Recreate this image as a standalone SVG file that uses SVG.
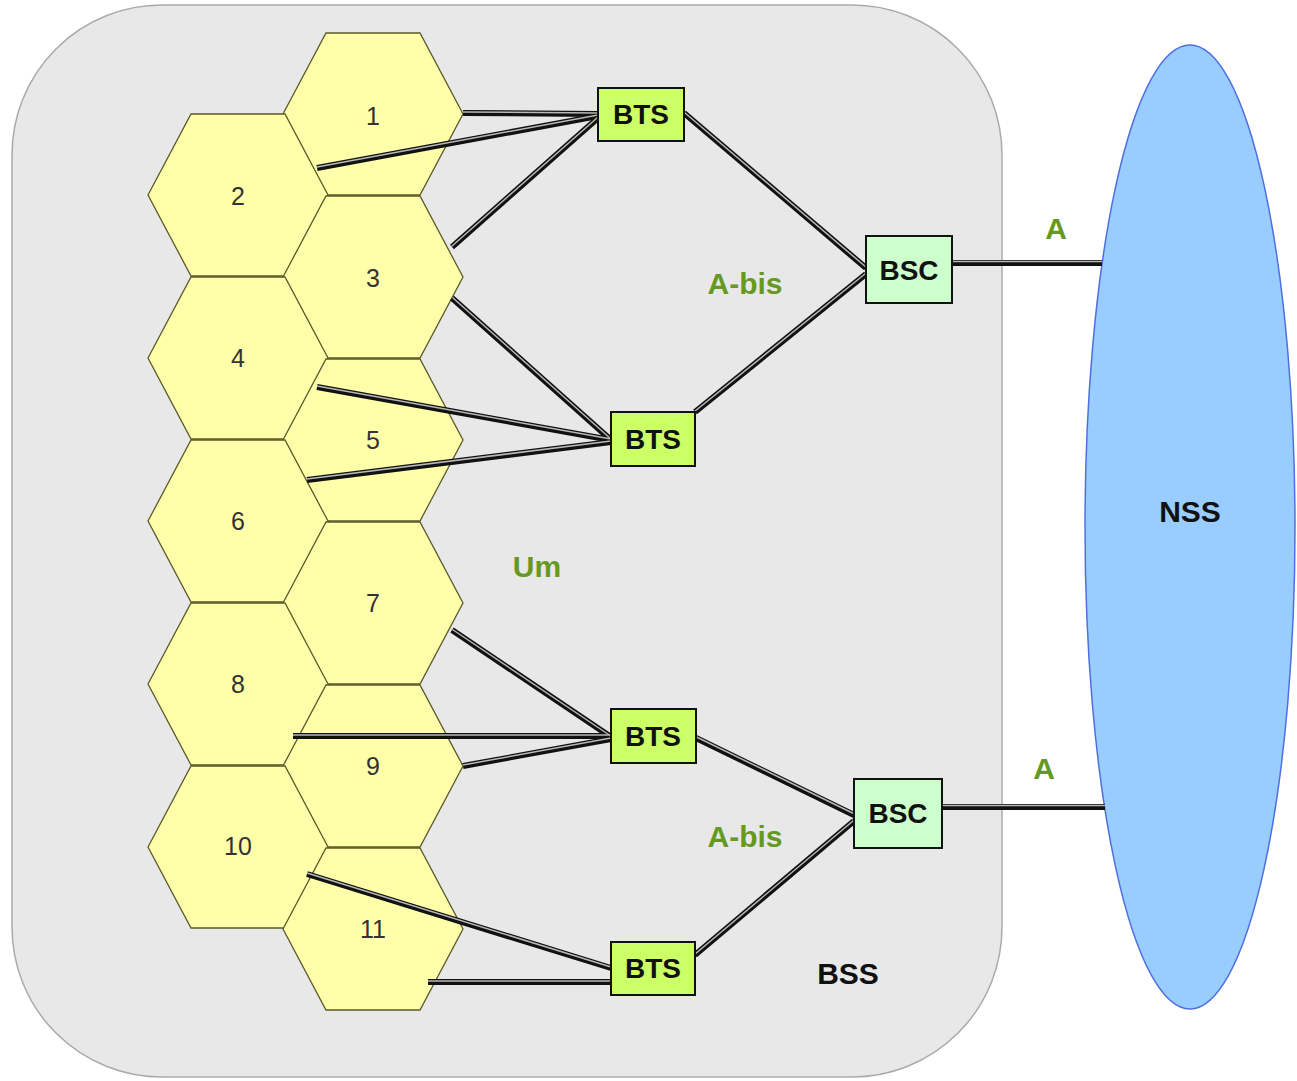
<svg xmlns="http://www.w3.org/2000/svg" width="1297" height="1081" viewBox="0 0 1297 1081">
<defs>
<style>
.hex{fill:#FFFFAA;stroke:#5a5a2a;stroke-width:1.3}
.num{font-family:"Liberation Sans",Arial,sans-serif;font-size:25px;fill:#333;text-anchor:middle}
.bts{fill:#CCFF66;stroke:#111;stroke-width:2}
.bsc{fill:#CCFFCC;stroke:#111;stroke-width:2}
.lbl{font-family:"Liberation Sans",Arial,sans-serif;font-weight:bold;font-size:28px;fill:#111;text-anchor:middle}
.grn{font-family:"Liberation Sans",Arial,sans-serif;font-weight:bold;font-size:30px;fill:#669922;text-anchor:middle}
.big{font-family:"Liberation Sans",Arial,sans-serif;font-weight:bold;font-size:30px;fill:#111;text-anchor:middle}
.lo{stroke:#111;stroke-width:6;fill:none;stroke-linecap:butt}
.li{stroke:#b8b8b8;stroke-width:1.5;fill:none}
</style>
<polygon id="hx" points="-90,0 -47,-81 47,-81 90,0 47,81 -47,81"/>
</defs>
<rect id="bss" x="12" y="5" width="990" height="1072" rx="150" ry="150" fill="#E8E8E8" stroke="#aaa" stroke-width="1.5"/>
<g id="nss">
<ellipse cx="1190" cy="527" rx="105" ry="482" fill="#99CCFF" stroke="#4f6fe0" stroke-width="1.5"/>
<text class="big" x="1190" y="522">NSS</text>
</g>
<g id="cells">
<g id="cell1"><use href="#hx" class="hex" x="373" y="114"/><text class="num" x="373" y="125">1</text></g>
<g id="cell2"><use href="#hx" class="hex" x="238" y="195"/><text class="num" x="238" y="205">2</text></g>
<g id="cell3"><use href="#hx" class="hex" x="373" y="277"/><text class="num" x="373" y="287">3</text></g>
<g id="cell4"><use href="#hx" class="hex" x="238" y="358"/><text class="num" x="238" y="367">4</text></g>
<g id="cell5"><use href="#hx" class="hex" x="373" y="440"/><text class="num" x="373" y="449">5</text></g>
<g id="cell6"><use href="#hx" class="hex" x="238" y="521"/><text class="num" x="238" y="530">6</text></g>
<g id="cell7"><use href="#hx" class="hex" x="373" y="603"/><text class="num" x="373" y="612">7</text></g>
<g id="cell8"><use href="#hx" class="hex" x="238" y="684"/><text class="num" x="238" y="693">8</text></g>
<g id="cell9"><use href="#hx" class="hex" x="373" y="766"/><text class="num" x="373" y="775">9</text></g>
<g id="cell10"><use href="#hx" class="hex" x="238" y="847"/><text class="num" x="238" y="855">10</text></g>
<g id="cell11"><use href="#hx" class="hex" x="373" y="929"/><text class="num" x="373" y="938">11</text></g>
</g>
<g id="connectors">
<g class="lo">
<path d="M463,113 L598,114"/>
<path d="M317,168 L598,116"/>
<path d="M452,247 L598,118"/>
<path d="M684,113 L866,268"/>
<path d="M866,274 L695,412"/>
<path d="M452,298 L611,440"/>
<path d="M317,387 L611,440"/>
<path d="M307,480 L611,442"/>
<path d="M452,630 L611,737"/>
<path d="M293,736 L611,736"/>
<path d="M463,766 L611,739"/>
<path d="M696,738 L854,815"/>
<path d="M854,821 L695,955"/>
<path d="M307,874 L611,968"/>
<path d="M428,982 L611,982"/>
<path d="M952,263 L1102,263"/>
<path d="M942,807 L1105,807"/>
</g>
<g class="li">
<path d="M463,112 L598,113"/>
<path d="M317,167 L598,115"/>
<path d="M451.5,246.5 L597.5,117.5"/>
<path d="M684.5,112.5 L866.5,267.5"/>
<path d="M865.5,273.5 L694.5,411.5"/>
<path d="M452.5,297.5 L611.5,439.5"/>
<path d="M317,386 L611,439"/>
<path d="M307,479 L611,441"/>
<path d="M452.5,629.5 L611.5,736.5"/>
<path d="M293,735 L611,735"/>
<path d="M463,765 L611,738"/>
<path d="M696.5,737 L854.5,814"/>
<path d="M853.5,820.5 L694.5,954.5"/>
<path d="M307,873 L611,967"/>
<path d="M428,981 L611,981"/>
<path d="M952,261.5 L1102,261.5"/>
<path d="M942,805.5 L1105,805.5"/>
</g>
</g>
<g id="bts1"><rect class="bts" x="598" y="88" width="86" height="53"/><text class="lbl" x="641" y="124">BTS</text></g>
<g id="bts2"><rect class="bts" x="611" y="412" width="84" height="54"/><text class="lbl" x="653" y="449">BTS</text></g>
<g id="bts3"><rect class="bts" x="611" y="709" width="85" height="54"/><text class="lbl" x="653" y="746">BTS</text></g>
<g id="bts4"><rect class="bts" x="611" y="942" width="84" height="53"/><text class="lbl" x="653" y="978">BTS</text></g>
<g id="bsc1"><rect class="bsc" x="866" y="236" width="86" height="67"/><text class="lbl" x="909" y="280">BSC</text></g>
<g id="bsc2"><rect class="bsc" x="854" y="779" width="88" height="69"/><text class="lbl" x="898" y="823">BSC</text></g>
<g id="labels">
<text class="grn" x="745" y="294">A-bis</text>
<text class="grn" x="745" y="847">A-bis</text>
<text class="grn" x="537" y="577">Um</text>
<text class="grn" x="1056" y="239">A</text>
<text class="grn" x="1044" y="779">A</text>
<text class="big" x="848" y="984">BSS</text>
</g>
</svg>
